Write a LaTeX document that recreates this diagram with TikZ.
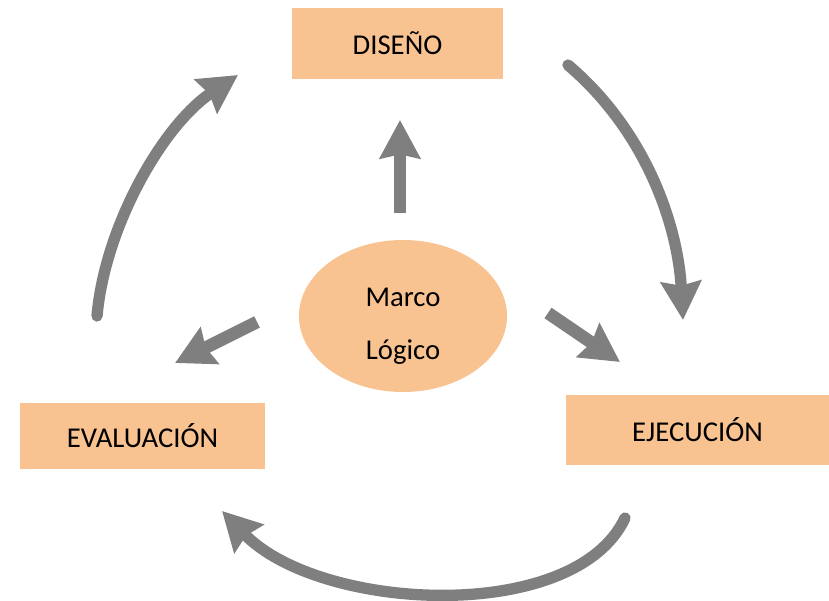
\documentclass[tikz,border=0pt]{standalone}
\usepackage{fontspec}
\setmainfont{Carlito}
\usepackage{xcolor}
\usepackage{tikz}
\usetikzlibrary{arrows.meta,shapes.geometric}
\definecolor{naranja}{HTML}{F8C291}
\definecolor{gris}{HTML}{7F7F7F}

\begin{document}
\begin{tikzpicture}[x=0.03cm,y=-0.03cm,
    caja/.style={fill=naranja,inner sep=0pt,font=\fontsize{24.5}{29}\selectfont},
    recta/.style={gris,line width=0.38cm,-{Stealth[length=1.15cm,width=1.2cm,inset=0.12cm]}},
    curva/.style={gris,line width=0.34cm,line cap=round,-{Stealth[length=1.15cm,width=1.2cm,inset=0.12cm]}}]
    \useasboundingbox (0,0) rectangle (829,601);

    \node[caja,minimum width=6.33cm,minimum height=2.13cm] (diseno) at (397.5,43.5) {DISEÑO};
    \node[caja,minimum width=7.89cm,minimum height=2.1cm] (ejecucion) at (697.5,430) {EJECUCIÓN};
    \node[caja,minimum width=7.35cm,minimum height=1.98cm] (evaluacion) at (142.5,436) {EVALUACIÓN};
    \node[caja,ellipse,minimum width=6.24cm,minimum height=4.56cm] (logico) at (403,316) {};
    \node[align=center,inner sep=0pt,font=\fontsize{24.5}{45}\selectfont]
      (marco) at ([yshift=-0.3cm]logico.center) {Marco\\Lógico};

    \coordinate (arriba0) at (400,213);
    \coordinate (arriba1) at (400,120);
    \coordinate (izq0) at (257,322);
    \coordinate (izq1) at (175,363);
    \coordinate (der0) at (548,313);
    \coordinate (der1) at (620,362);
    \draw[recta] (arriba0) -- (arriba1);
    \draw[recta] (izq0) -- (izq1);
    \draw[recta] (der0) -- (der1);

    \coordinate (ciclo1) at (568,65);
    \coordinate (ciclo2) at (683,320);
    \coordinate (ciclo3) at (625,518);
    \coordinate (ciclo4) at (222,511);
    \coordinate (ciclo5) at (97,316);
    \coordinate (ciclo6) at (238,75);
    \draw[curva] (ciclo1) .. controls (648,133) and (678,228) .. (ciclo2);
    \draw[curva] (ciclo3) .. controls (575,625) and (320,612) .. (ciclo4);
    \draw[curva] (ciclo5) .. controls (105,226) and (163,125) .. (ciclo6);
  \end{tikzpicture}
\end{document}
